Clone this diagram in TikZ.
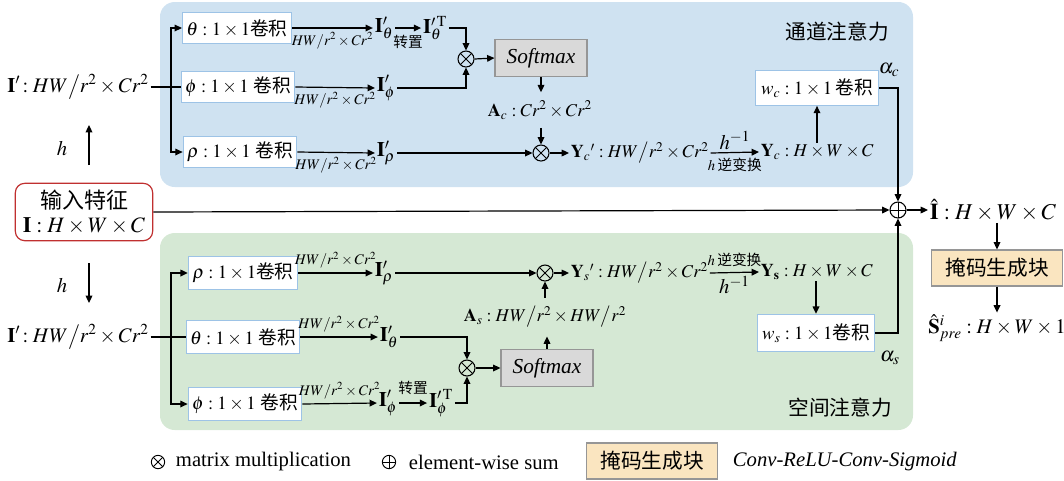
\documentclass[tikz,border=0pt]{standalone}
\usepackage{mathptmx}
\usepackage[no-math]{fontspec}
\setmainfont{Liberation Serif}
\newfontfamily\zhfont{Noto Sans CJK SC}
\newcommand\zh[1]{{\zhfont #1}}
\usetikzlibrary{arrows.meta,calc}

\definecolor{chanbg}{RGB}{207,226,241}
\definecolor{spatbg}{RGB}{213,232,212}
\definecolor{convline}{RGB}{157,195,230}
\definecolor{softfill}{RGB}{217,217,217}
\definecolor{softline}{RGB}{150,150,150}
\definecolor{maskfill}{RGB}{250,229,192}
\definecolor{inborder}{RGB}{192,48,48}

\tikzset{
  lbl/.style={inner sep=1pt, font=\fontsize{15.5}{18}\selectfont},
  mth/.style={inner sep=1pt, font=\fontsize{13.5}{16}\selectfont},
  bigl/.style={inner sep=1pt, font=\fontsize{17}{20}\selectfont},
  sml/.style={inner sep=1pt, font=\fontsize{11}{13}\selectfont},
  zhs/.style={inner sep=1pt, font=\fontsize{11}{13}\selectfont\zhfont},
  zhl/.style={inner sep=1pt, font=\fontsize{15.5}{18}\selectfont\zhfont},
  conv/.style={draw=convline, line width=0.8pt, fill=white, inner xsep=3pt,
    minimum width=78pt, minimum height=23pt, font=\fontsize{14}{16}\selectfont},
  convb/.style={conv, minimum width=82pt, minimum height=25pt},
  soft/.style={draw=softline, line width=0.8pt, fill=softfill,
    minimum width=69pt, minimum height=28pt, font=\fontsize{16}{18}\selectfont\itshape},
  maskbox/.style={draw=softline, line width=0.8pt, fill=maskfill,
    minimum width=98pt, minimum height=27pt, font=\fontsize{15.5}{18}\selectfont\zhfont},
  opx/.style={circle, draw, line width=0.8pt, inner sep=0pt, minimum size=12pt,
    path picture={\draw[line width=0.7pt]
      (path picture bounding box.north west) -- (path picture bounding box.south east)
      (path picture bounding box.south west) -- (path picture bounding box.north east);}},
  opp/.style={circle, draw, line width=0.8pt, inner sep=0pt, minimum size=12pt,
    path picture={\draw[line width=0.7pt]
      (path picture bounding box.north) -- (path picture bounding box.south)
      (path picture bounding box.west) -- (path picture bounding box.east);}},
}

\begin{document}
\begin{tikzpicture}[x=0.75pt, y=-0.75pt, line width=0.9pt,
  >={Triangle[length=5.5pt,width=5pt]}]
\useasboundingbox (0,0) rectangle (1064,480);

% attention panels
\fill[chanbg, rounded corners=11pt] (160,2) rectangle (913,187);
\fill[spatbg, rounded corners=11pt] (160,233) rectangle (913,430);
\node[zhl] (tc) at (837,32) {通道注意力};
\node[zhl] (ts) at (840,408) {空间注意力};

% input and reshaping
\node[draw=inborder, line width=0.9pt, fill=white, rounded corners=7pt, align=center,
  minimum width=103pt, minimum height=43pt, inner sep=2pt,
  font=\fontsize{16.5}{19}\selectfont] (inp) at (84,212)
  {\zh{输入特征}\\[-1pt]$\mathbf{I}:H\times W\times C$};
\node[lbl] (Ipt) at (78,87) {$\mathbf{I}'\!:HW\big/r^2\times Cr^2$};
\node[lbl] (Ipb) at (78,337) {$\mathbf{I}'\!:HW\big/r^2\times Cr^2$};
\coordinate (hu1) at (89,165);
\coordinate (hu2) at (89,125);
\coordinate (hd1) at (89,263);
\coordinate (hd2) at (89,303);
\draw[->] (hu1) -- (hu2);
\draw[->] (hd1) -- (hd2);
\node[lbl] (hu) at (62,148) {$h$};
\node[lbl] (hd) at (62,285) {$h$};

% ---------------- channel attention ----------------
\node[conv] (thetaT) at (237,28) {$\theta:1\times1$\zh{卷积}};
\node[conv] (phiT) at (238,87) {$\phi:1\times1$ \zh{卷积}};
\node[conv] (rhoT) at (240,152) {$\rho:1\times1$ \zh{卷积}};
\coordinate (jt) at (171,87);
\draw (Ipt.east) -- (phiT.west);
\draw[->] (jt) |- (thetaT.west);
\draw[->] (jt) |- (rhoT.west);

\node[lbl] (ItT) at (384,28) {$\mathbf{I}'_\theta$};
\node[lbl] (ItTT) at (435,28) {$\mathbf{I}'^{\,\mathrm{T}}_\theta$};
\node[lbl] (IpT) at (386,88) {$\mathbf{I}'_\phi$};
\node[lbl] (IrT) at (386,153) {$\mathbf{I}'_\rho$};
\draw[->] (thetaT.east) -- node[sml,below=2pt]{$HW/r^2\times Cr^2$} (ItT.west);
\draw[->] (phiT.east) -- node[sml,below=2pt]{$HW/r^2\times Cr^2$} (IpT.west);
\draw[->] (rhoT.east) -- node[sml,below=2pt]{$HW/r^2\times Cr^2$} (IrT.west);
\draw[->] (ItT.east) -- node[zhs,below=4pt]{转置} (ItTT.west);

\node[opx] (m1) at (466,59) {};
\draw[->] (ItTT.east) -| (m1.north);
\draw[->] (IpT.east) -| (m1.south);
\node[soft] (sT) at (541,58) {Softmax};
\draw[->] (m1.east) -- (sT.west);
\node[mth, inner ysep=6pt] (AcT) at (540,110) {$\mathbf{A}_c:Cr^2\times Cr^2$};
\draw[->] (sT.south) -- (sT.south |- AcT.north);
\node[opx] (m2) at (541,153) {};
\draw[->] (m2 |- AcT.south) -- (m2.north);
\draw[->] (IrT.east) -- (m2.west);
\node[mth, anchor=west] (YcpT) at (569,153) {$\mathbf{Y}_c{}':HW\big/r^2\times Cr^2$};
\draw[->] (m2.east) -- (YcpT.west);
\node[mth, anchor=west] (YcT) at (759,152) {$\mathbf{Y}_c:H\times W\times C$};
\draw[->] (YcpT.east) -- node[lbl,above=1pt]{$h^{-1}$} node[zhs,below=3pt]{$h$\,逆变换} (YcT.west);
\node[conv, minimum width=92pt, minimum height=26pt] (wc) at (817,88) {$w_c:1\times1$\,\zh{卷积}};
\draw[->] (wc.south |- YcT.north) -- (wc.south);
\node[lbl] (ac) at (889,70) {$\alpha_c$};

% ---------------- fusion and mask head ----------------
\node[opp] (sum) at (898,210) {};
\draw[->] (wc.east) -| (sum.north);
\draw[->] (inp.east) -- (sum.west);
\node[bigl, anchor=west] (Ihat) at (928,210) {$\hat{\mathbf{I}}:H\times W\times C$};
\draw[->] (sum.east) -- (Ihat.west);
\node[maskbox] (mask) at (997,268) {掩码生成块};
\draw[->] (mask.north |- Ihat.south) -- (mask.north);
\node[lbl] (Spre) at (997,328) {$\hat{\mathbf{S}}^{i}_{pre}:H\times W\times 1$};
\draw[->] (mask.south) -- (Spre.north);

% ---------------- spatial attention ----------------
\node[convb] (rhoB) at (243,273) {$\rho:1\times1$\zh{卷积}};
\node[convb] (thetaB) at (243,337) {$\theta:1\times1$ \zh{卷积}};
\node[convb, minimum width=85pt] (phiB) at (245,404) {$\phi:1\times1$ \zh{卷积}};
\coordinate (jb) at (171,337);
\draw (Ipb.east) -- (thetaB.west);
\draw[->] (jb) |- (rhoB.west);
\draw[->] (jb) |- (phiB.west);

\node[lbl] (IrB) at (384,273) {$\mathbf{I}'_\rho$};
\node[lbl] (ItB) at (389,337) {$\mathbf{I}'_\theta$};
\node[lbl] (IpB) at (388,403) {$\mathbf{I}'_\phi$};
\node[lbl] (IpTB) at (441,403) {$\mathbf{I}'^{\,\mathrm{T}}_\phi$};
\draw[->] (rhoB.east) -- node[sml,above=2pt]{$HW/r^2\times Cr^2$} (IrB.west);
\draw[->] (thetaB.east) -- node[sml,above=2pt]{$HW/r^2\times Cr^2$} (ItB.west);
\draw[->] (phiB.east) -- node[sml,above=2pt]{$HW/r^2\times Cr^2$} (IpB.west);
\draw[->] (IpB.east) -- node[zhs,above=5pt]{转置} (IpTB.west);

\node[opx] (m3) at (545,273) {};
\draw[->] (IrB.east) -- (m3.west);
\node[opx] (m4) at (467,368) {};
\draw[->] (ItB.east) -| (m4.north);
\draw[->] (IpTB.east) -| (m4.south);
\node[soft] (sB) at (547,368) {Softmax};
\draw[->] (m4.east) -- (sB.west);
\node[mth, inner ysep=6pt] (AsB) at (545,317) {$\mathbf{A}_s:HW\big/r^2\times HW\big/r^2$};
\draw[->] (sB.north) -- (sB.north |- AsB.south);
\draw[->] (m3 |- AsB.north) -- (m3.south);
\node[mth, anchor=west] (YspB) at (569,273) {$\mathbf{Y}_s{}':HW\big/r^2\times Cr^2$};
\draw[->] (m3.east) -- (YspB.west);
\node[mth, anchor=west] (YsB) at (759,272) {$\mathbf{Y}_{\mathbf{s}}:H\times W\times C$};
\draw[->] (YspB.east) -- node[zhs,above=3pt]{$h$\,逆变换} node[lbl,below=1pt]{$h^{-1}$} (YsB.west);
\node[conv, minimum width=88pt, minimum height=28pt] (ws) at (816,333) {$w_s:1\times1$\zh{卷积}};
\draw[->] (ws.north |- YsB.south) -- (ws.north);
\draw[->] (ws.east) -| (sum.south);
\node[lbl] (as) at (890,358) {$\alpha_s$};

% ---------------- legend ----------------
\node[opx, minimum size=10pt, line width=0.7pt] (lgm) at (158,462) {};
\node[lbl, anchor=west] (lgmt) at (174,462) {matrix multiplication};
\node[opp, minimum size=10pt, line width=0.7pt] (lgp) at (389,462) {};
\node[lbl, anchor=west] (lgpt) at (407,462) {element-wise sum};
\node[maskbox] (lgbox) at (652,461) {掩码生成块};
\node[lbl, anchor=west] (lgbt) at (731,462) {\textit{Conv-ReLU-Conv-Sigmoid}};
\end{tikzpicture}
\end{document}
